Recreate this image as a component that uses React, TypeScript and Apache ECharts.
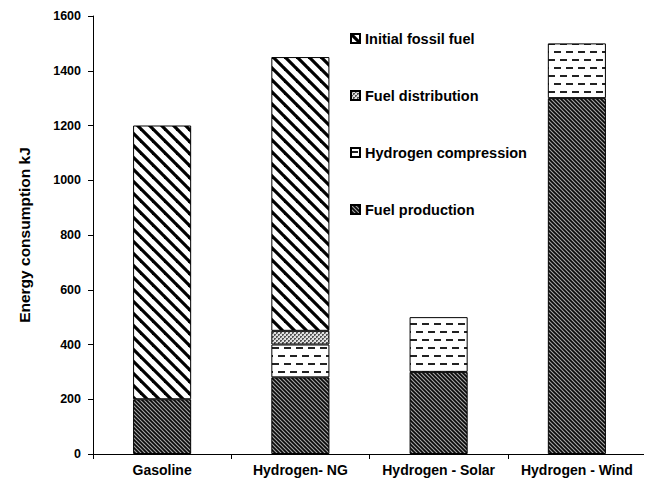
import React, { useEffect, useRef } from "react";
import * as echarts from "echarts";

const categories = ["Gasoline", "Hydrogen- NG", "Hydrogen - Solar", "Hydrogen - Wind"];
const fuelProduction = [200, 280, 300, 1300];
const hydrogenCompression = [null, 120, 200, 200];
const fuelDistribution = [null, 50, null, null];
const initialFossilFuel = [1000, 1000, null, null];
const legendOrder = ["Initial fossil fuel", "Fuel distribution", "Hydrogen compression", "Fuel production"];
const yMin = 0;
const yMax = 1600;
const yInterval = 200;

function makeTile(w: number, h: number, draw: (c: CanvasRenderingContext2D) => void) {
  const cv = document.createElement("canvas");
  cv.width = w;
  cv.height = h;
  const ctx = cv.getContext("2d")!;
  draw(ctx);
  return cv;
}

export default function App() {
  const ref = useRef<HTMLDivElement>(null);
  useEffect(() => {
    if (!ref.current) return;
    const chart = echarts.init(ref.current, undefined, { renderer: "svg" });

    const wideStripes = makeTile(12, 12, (c) => {
      c.fillStyle = "#fff";
      c.fillRect(0, 0, 12, 12);
      c.strokeStyle = "#000";
      c.lineWidth = 3.2;
      for (const o of [-12, 0, 12]) {
        c.beginPath();
        c.moveTo(o - 2, -2);
        c.lineTo(o + 14, 14);
        c.stroke();
      }
    });
    const denseStripes = makeTile(4, 4, (c) => {
      c.fillStyle = "#0a0a0a";
      c.fillRect(0, 0, 4, 4);
      c.strokeStyle = "#a8a8a8";
      c.lineWidth = 1.1;
      for (const o of [-4, 0, 4]) {
        c.beginPath();
        c.moveTo(o - 1, -1);
        c.lineTo(o + 5, 5);
        c.stroke();
      }
    });
    const dashes = makeTile(12, 16, (c) => {
      c.fillStyle = "#fff";
      c.fillRect(0, 0, 12, 16);
      c.fillStyle = "#222";
      c.fillRect(0, 3, 7, 2);
      c.fillRect(6, 11, 7, 2);
      c.fillRect(-6, 11, 7, 2);
    });
    const cross = makeTile(4, 4, (c) => {
      c.fillStyle = "#e0e0e0";
      c.fillRect(0, 0, 4, 4);
      c.fillStyle = "#555";
      c.fillRect(0, 0, 2, 2);
      c.fillRect(2, 2, 2, 2);
      c.fillStyle = "#aaa";
      c.fillRect(1, 1, 1, 1);
      c.fillRect(3, 3, 1, 1);
    });

    const font = "Liberation Sans";
    const mk = (name: string, data: (number | null)[], img: HTMLCanvasElement) => ({
      name,
      type: "bar",
      stack: "total",
      barWidth: "42%",
      data,
      itemStyle: {
        color: { image: img, repeat: "repeat" } as any,
        borderColor: "#000",
        borderWidth: 1,
      },
      emphasis: { disabled: true },
    });

    chart.setOption({
      animation: false,
      grid: { left: 81, right: 6, top: 8, bottom: 33, containLabel: false },
      legend: {
        orient: "vertical",
        left: 342,
        top: 23,
        padding: 0,
        itemWidth: 9,
        itemHeight: 9,
        itemGap: 42,
        icon: "rect",
        data: legendOrder,
        textStyle: { fontFamily: font, fontWeight: "bold", fontSize: 14.5, color: "#000" },
      },
      xAxis: {
        type: "category",
        data: categories,
        axisLine: { lineStyle: { color: "#000", width: 1 } },
        axisTick: { show: true, length: 5, lineStyle: { color: "#000" } },
        axisLabel: { fontFamily: font, fontWeight: "bold", fontSize: 14, color: "#000", margin: 9, interval: 0 },
      },
      yAxis: {
        type: "value",
        min: yMin,
        max: yMax,
        interval: yInterval,
        name: "Energy consumption kJ",
        nameLocation: "middle",
        nameGap: 61,
        nameTextStyle: { fontFamily: font, fontWeight: "bold", fontSize: 15.5, color: "#000" },
        axisLine: { show: true, lineStyle: { color: "#000", width: 1 } },
        axisTick: { show: true, length: 5, lineStyle: { color: "#000" } },
        axisLabel: {
          fontFamily: font,
          fontWeight: "bold",
          fontSize: 12.5,
          color: "#000",
          margin: 12,
          formatter: (v: number) => String(v),
        },
        splitLine: { show: false },
      },
      series: [
        mk("Fuel production", fuelProduction, denseStripes),
        mk("Hydrogen compression", hydrogenCompression, dashes),
        mk("Fuel distribution", fuelDistribution, cross),
        mk("Initial fossil fuel", initialFossilFuel, wideStripes),
      ],
    });
    return () => chart.dispose();
  }, []);
  return <div ref={ref} style={{ width: 644, height: 479 }} />;
}
